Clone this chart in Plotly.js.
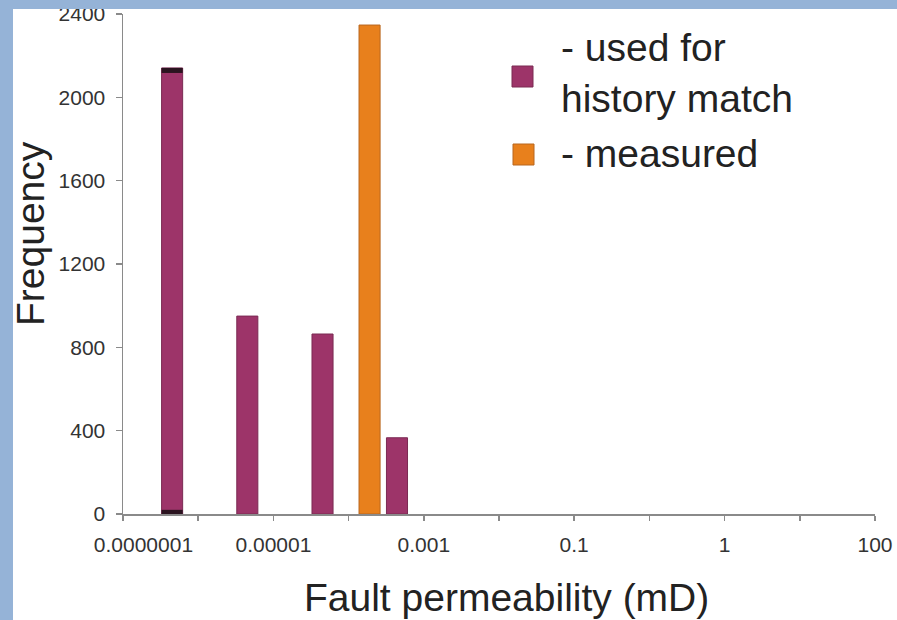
<!DOCTYPE html>
<html>
<head>
<meta charset="utf-8">
<script src="https://cdn.plot.ly/plotly-3.0.1.min.js"></script>
<style>
  html, body { margin: 0; padding: 0; background: #ffffff; }
  #wrap { position: relative; width: 897px; height: 620px; overflow: hidden; }
  #chart { position: absolute; left: 0; top: 0; width: 897px; height: 620px; }
  .strip { position: absolute; background: #95b3d7; }
</style>
</head>
<body>
<div id="wrap">
  <div id="chart"></div>
  <div class="strip" style="left:0;top:0;width:897px;height:9px;"></div>
  <div class="strip" style="left:0;top:0;width:13px;height:620px;"></div>
</div>
<script>
// ---- data ----
const historyPerm = [4.5e-7, 4.5e-6, 4.5e-5, 4.4e-4];   // fault permeability (mD), bar centres
const historyFreq = [2141, 950, 864, 366];
const measuredPerm = [1.9e-4];
const measuredFreq = [2347];
// dark segments drawn on the first bar (top cap and bottom edge)
const capPerm = [4.5e-7, 4.5e-7];
const capBase = [2117, 0];
const capHeight = [24, 20];

const xTickDecades = [-7, -6, -5, -4, -3, -2, -1, 0, 1, 2, 3];
const xTickLabels = ["\u00a0\u00a0\u00a0\u00a0\u00a0\u00a0\u00a00.0000001", "", "0.00001", "", "0.001", "", "0.1", "", "1", "", "100"];
const yTickVals = [0, 400, 800, 1200, 1600, 2000, 2400];
const yTickLabels = ["0", "400", "800", "1200", "1600", "2000", "2400"];
const legendLabels = ["- used for<br>history match", "- measured"];

const purple = "#9d3469";
const purpleEdge = "#7b2a53";
const orange = "#e8801c";
const orangeEdge = "#b8661e";
const FONT = "Liberation Sans, Arial, sans-serif";

const lg = v => Math.log10(v);
const barW = 0.28;

const traces = [
  {
    type: "bar", x: historyPerm.map(lg), y: historyFreq, width: barW,
    marker: { color: purple, line: { color: purpleEdge, width: 1 } },
    showlegend: false, hoverinfo: "skip"
  },
  {
    type: "bar", x: measuredPerm.map(lg), y: measuredFreq, width: barW,
    marker: { color: orange, line: { color: orangeEdge, width: 1 } },
    showlegend: false, hoverinfo: "skip"
  },
  {
    type: "bar", x: capPerm.map(lg), y: capHeight, base: capBase, width: barW,
    marker: { color: "#2b1420", line: { width: 0 } },
    showlegend: false, hoverinfo: "skip"
  }
];

const L = 123, T = 14, PW = 752, PH = 500;
const px = v => (v - L) / PW;       // page x -> paper
const py = v => (T + PH - v) / PH;  // page y -> paper

const layout = {
  width: 897, height: 620,
  margin: { l: L, r: 897 - L - PW, t: T, b: 620 - T - PH, pad: 0 },
  paper_bgcolor: "#ffffff", plot_bgcolor: "#ffffff",
  barmode: "overlay",
  font: { family: FONT, color: "#222" },
  xaxis: {
    type: "linear", range: [-7, 3], fixedrange: true,
    tickmode: "array", tickvals: xTickDecades, ticktext: xTickLabels,
    ticks: "outside", ticklen: 5, tickwidth: 1.5, tickcolor: "#8a8a8a",
    showline: true, linecolor: "#8a8a8a", linewidth: 1.5,
    showgrid: false, zeroline: false,
    tickfont: { family: FONT, size: 21, color: "#333" },
    ticklabelstandoff: 6
  },
  yaxis: {
    range: [0, 2400], fixedrange: true,
    tickmode: "array", tickvals: yTickVals, ticktext: yTickLabels,
    ticks: "outside", ticklen: 6, tickwidth: 1.5, tickcolor: "#8a8a8a",
    showline: true, linecolor: "#8a8a8a", linewidth: 1.5,
    showgrid: false, zeroline: false,
    tickfont: { family: FONT, size: 21, color: "#333" },
    ticklabelstandoff: 6
  },
  shapes: [
    { type: "rect", xref: "paper", yref: "paper", x0: px(512), x1: px(533), y0: py(87), y1: py(66),
      fillcolor: purple, line: { color: purpleEdge, width: 1 } },
    { type: "rect", xref: "paper", yref: "paper", x0: px(513), x1: px(534), y0: py(165), y1: py(144),
      fillcolor: orange, line: { color: orangeEdge, width: 1 } }
  ],
  annotations: [
    { xref: "paper", yref: "paper", x: px(31), y: py(234), text: "Frequency", textangle: -90,
      showarrow: false, xanchor: "center", yanchor: "middle",
      font: { family: FONT, size: 39, color: "#222" } },
    { xref: "paper", yref: "paper", x: px(507), y: py(597), text: "Fault permeability (mD)",
      showarrow: false, xanchor: "center", yanchor: "middle",
      font: { family: FONT, size: 39, color: "#222" } },
    { xref: "paper", yref: "paper", x: px(559), y: py(73), text: legendLabels[0], align: "left",
      showarrow: false, xanchor: "left", yanchor: "middle",
      font: { family: FONT, size: 39, color: "#222" } },
    { xref: "paper", yref: "paper", x: px(559), y: py(153), text: legendLabels[1], align: "left",
      showarrow: false, xanchor: "left", yanchor: "middle",
      font: { family: FONT, size: 39, color: "#222" } }
  ]
};

Plotly.newPlot("chart", traces, layout, { staticPlot: true, displayModeBar: false });
</script>
</body>
</html>
